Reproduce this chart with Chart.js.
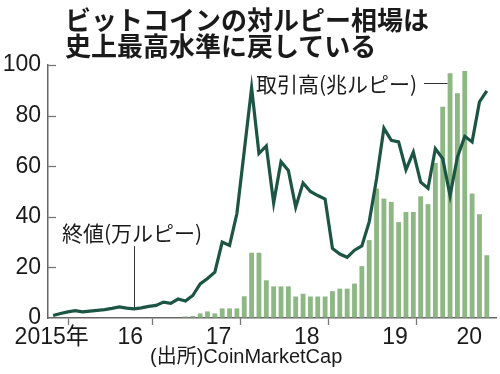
<!DOCTYPE html>
<html>
<head>
<meta charset="utf-8">
<script src="https://cdn.jsdelivr.net/npm/chart.js@4.4.1/dist/chart.umd.min.js"></script>
<style>
  body { margin: 0; background: #fff; }
  #wrap { position: relative; width: 500px; height: 374px; font-family: "Noto Sans CJK JP", sans-serif; color: #1a1a1a; }
  #wrap canvas { position: absolute; left: 0; top: 0; }
  .txt { position: absolute; white-space: nowrap; }
  #title { left: 65px; top: 6px; font-size: 26px; line-height: 26px; font-weight: 700; }
  #closeLbl { left: 62px; top: 221px; font-size: 21px; line-height: 22px; }
  #volLbl { left: 256px; top: 72px; font-size: 21px; line-height: 22px; }
  #source { left: 150px; top: 345px; font-size: 20px; line-height: 22px; font-family: "Liberation Sans", "Noto Sans CJK JP", sans-serif; }
</style>
</head>
<body>
<div id="wrap">
  <canvas id="chart" width="500" height="374"></canvas>
  <div id="title" class="txt">ビットコインの対ルピー相場は<br>史上最高水準に戻している</div>
  <div id="closeLbl" class="txt">終値(万ルピー)</div>
  <div id="volLbl" class="txt">取引高(兆ルピー)</div>
  <div id="source" class="txt">(出所)CoinMarketCap</div>
</div>
<script>
// monthly data, Aug 2015 - Jul 2020
const months = [
  '2015-08','2015-09','2015-10','2015-11','2015-12',
  '2016-01','2016-02','2016-03','2016-04','2016-05','2016-06','2016-07','2016-08','2016-09','2016-10','2016-11','2016-12',
  '2017-01','2017-02','2017-03','2017-04','2017-05','2017-06','2017-07','2017-08','2017-09','2017-10','2017-11','2017-12',
  '2018-01','2018-02','2018-03','2018-04','2018-05','2018-06','2018-07','2018-08','2018-09','2018-10','2018-11','2018-12',
  '2019-01','2019-02','2019-03','2019-04','2019-05','2019-06','2019-07','2019-08','2019-09','2019-10','2019-11','2019-12',
  '2020-01','2020-02','2020-03','2020-04','2020-05','2020-06','2020-07'
];

// 終値 (万ルピー)
const closeValues = [
  1.0, 1.8, 2.4, 2.9, 2.4,
  2.7, 3.0, 3.3, 3.8, 4.4, 3.9, 3.6, 4.0, 4.6, 5.0, 6.3, 5.8,
  7.5, 6.7, 8.9, 13.5, 15.6, 18.1, 30, 28.7, 41.3, 66, 91, 65,
  68, 45.5, 61.8, 58.3, 43.8, 53.4, 50, 48.4, 47, 27.5, 25.3, 24,
  26.8, 28.5, 38, 55, 75, 70.2, 69.6, 58.6, 65.6, 53.7, 51.3, 66.9,
  63, 48.4, 63.6, 71.8, 69.6, 85.4, 89.8
];

// 取引高 (兆ルピー)
const volumeValues = [
  null, null, null, null, null,
  null, null, null, null, null, null, null, null, null, null, null, null,
  null, 0.6, 0.8, 1.8, 2.6, 1.8, 3.8, 3.8, 3.8, 8.6, 25.8, 25.8,
  14.9, 12.5, 12.5, 12.5, 8.5, 9.6, 8.5, 8.5, 8.5, 10.6, 11.6, 11.6,
  13.6, 20.5, 30.8, 51.2, 47.2, 45.9, 37.9, 41.9, 41.9, 48.1, 45, 61.3,
  83.5, 96.7, 88.8, 97.6, 49.2, 41, 24.8
];

const yearLabels = ['2015年', '16', '17', '18', '19', '20'];
const yTicks = [0, 20, 40, 60, 80, 100];

// month label -> position in months since Jan 2015 (bar centre)
function monthX(m) {
  const [yy, mm] = m.split('-').map(Number);
  return (yy - 2015) * 12 + (mm - 1) + 0.5;
}

const closeLeaderMonth = '2016-07';
const volLeaderMonth = '2020-02';

// year boundaries get tick marks, label ticks sit inside each year
const boundaryTicks = [12, 24, 36, 48, 60];
const labelTicks = [7.3, 18, 30, 42, 54, 64.1];

const tickFont = { family: '"Liberation Sans", "Noto Sans CJK JP"', size: 23, lineHeight: 1 };

const extras = {
  id: 'extras',
  beforeDatasetsDraw(chart) {
    const { ctx, chartArea, scales: { x, y } } = chart;
    ctx.save();
    // inward y tick marks
    ctx.strokeStyle = '#777';
    ctx.lineWidth = 1.3;
    yTicks.forEach(v => {
      if (v === 0) return;
      const py = Math.round(y.getPixelForValue(v)) + 0.5;
      ctx.beginPath();
      ctx.moveTo(chartArea.left, py);
      ctx.lineTo(chartArea.left + 8, py);
      ctx.stroke();
    });
    // leader for the close line
    ctx.strokeStyle = '#333';
    ctx.lineWidth = 1;
    const i = months.indexOf(closeLeaderMonth);
    const lx = Math.round(x.getPixelForValue(monthX(closeLeaderMonth))) + 0.5;
    ctx.beginPath();
    ctx.moveTo(lx, 246);
    ctx.lineTo(lx, y.getPixelForValue(closeValues[i]));
    ctx.stroke();
    // leader for the volume bars
    const j = months.indexOf(volLeaderMonth);
    const bar = chart.getDatasetMeta(1).data[j];
    ctx.beginPath();
    ctx.moveTo(424, 83.5);
    ctx.lineTo(bar.x - bar.width / 2, 83.5);
    ctx.stroke();
    ctx.restore();
  }
};

new Chart(document.getElementById('chart'), {
  type: 'bar',
  data: {
    datasets: [
      {
        type: 'line',
        label: '終値',
        data: months.map((m, i) => ({ x: monthX(m), y: closeValues[i] })),
        borderColor: '#1d5544',
        borderWidth: 3.2,
        pointRadius: 0,
        tension: 0,
        borderJoinStyle: 'miter',
        order: 0
      },
      {
        type: 'bar',
        label: '取引高',
        data: months.map((m, i) => ({ x: monthX(m), y: volumeValues[i] })),
        backgroundColor: '#8db883',
        barPercentage: 0.66,
        categoryPercentage: 1,
        order: 1
      }
    ]
  },
  options: {
    responsive: false,
    devicePixelRatio: 1,
    animation: false,
    layout: { padding: { top: 65, right: 4, left: 0, bottom: 0 } },
    plugins: { legend: { display: false }, tooltip: { enabled: false } },
    scales: {
      x: {
        type: 'linear',
        min: 6.8,
        max: 67.75,
        offset: false,
        border: { color: '#666', width: 1.5 },
        grid: {
          drawOnChartArea: false,
          drawTicks: true,
          tickLength: 7,
          tickWidth: 1.3,
          tickColor: ctx => boundaryTicks.includes(ctx.tick && ctx.tick.value) ? '#777' : 'rgba(0,0,0,0)'
        },
        afterBuildTicks: scale => {
          scale.ticks = boundaryTicks.concat(labelTicks).sort((a, b) => a - b).map(v => ({ value: v }));
        },
        ticks: {
          autoSkip: false,
          maxRotation: 0,
          padding: 1,
          color: '#1a1a1a',
          font: tickFont,
          callback: v => {
            const k = labelTicks.indexOf(v);
            return k >= 0 ? yearLabels[k] : '';
          }
        },
        afterFit: scale => { scale.height = 56; }
      },
      y: {
        min: 0,
        max: 100,
        border: { color: '#666', width: 1.5 },
        grid: { drawOnChartArea: false, drawTicks: false },
        afterBuildTicks: scale => { scale.ticks = yTicks.map(v => ({ value: v })); },
        ticks: { padding: 7, color: '#1a1a1a', font: tickFont },
        afterFit: scale => { scale.width = 48; }
      }
    }
  },
  plugins: [extras]
});
</script>
</body>
</html>
